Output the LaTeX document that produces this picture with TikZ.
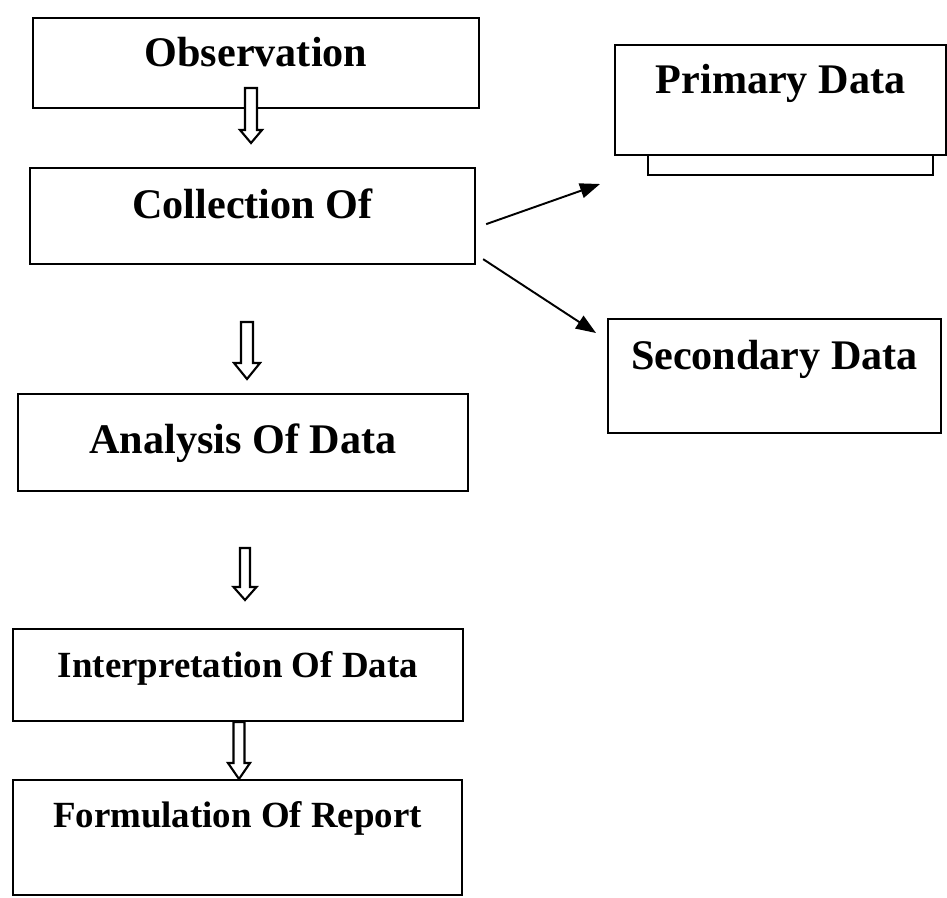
\documentclass[tikz,border=0pt]{standalone}
\usepackage{fontspec}
\setmainfont{Liberation Serif}
\usepackage{tikz}
\usetikzlibrary{calc}
\usetikzlibrary{arrows.meta}
\tikzset{box/.style={draw, rectangle, line width=1.3pt, fill=white, inner sep=0pt, anchor=north, font=\fontsize{24}{28}\selectfont\bfseries}, smallbox/.style={box, font=\fontsize{21}{25}\selectfont\bfseries}}
\tikzset{hollow/.style={draw, fill=white, line width=1.2pt, line join=miter}, link/.style={line width=1.1pt, -{Triangle[length=0.4cm, width=0.3cm]}}}

\begin{document}
\begin{tikzpicture}

	\useasboundingbox (0,0) rectangle (18.94,17.94);

	% steps on the left
	\node[box, minimum width=8.92cm, text height=0.96cm, text depth=0.84cm] (obs) at (5.12,17.60) {Observation};
	\node[box, minimum width=8.90cm, text height=1.00cm, text depth=0.92cm] (col) at (5.05,14.60) {Collection Of};
	\node[box, minimum width=9.00cm, text height=1.18cm, text depth=0.76cm] (ana) at (4.86,10.08) {Analysis Of Data};
	\node[smallbox, minimum width=9.00cm, text height=0.96cm, text depth=0.88cm] (int) at (4.76,5.38) {Interpretation Of Data};
	\node[smallbox, minimum width=8.98cm, text height=0.94cm, text depth=1.36cm] (frm) at (4.75,2.36) {Formulation Of Report};

	% kinds of data on the right (second sheet behind the primary box)
	\node[box, minimum width=5.70cm, minimum height=0.74cm] (sheet) at (15.81,15.20) {};
	\node[box, minimum width=6.62cm, text height=0.96cm, text depth=1.24cm] (pri) at (15.61,17.06) {Primary Data};
	\node[box, minimum width=6.66cm, text height=1.00cm, text depth=1.28cm] (sec) at (15.49,11.58) {Secondary Data};

	% hollow arrows between the steps
	\foreach \x/\ya/\yb/\s/\h/\l in {5.02/16.18/15.08/0.12/0.22/0.26, 4.94/11.50/10.36/0.12/0.26/0.32, 4.90/6.98/5.94/0.10/0.23/0.26, 4.78/3.50/2.36/0.11/0.22/0.32}
		\draw[hollow] (\x-\s,\ya) -- (\x+\s,\ya) -- (\x+\s,\yb+\l) -- (\x+\h,\yb+\l) -- (\x,\yb) -- (\x-\h,\yb+\l) -- (\x-\s,\yb+\l) -- cycle;

	% collection splits into two
	\coordinate (pri-in) at (12.00,14.26);
	\coordinate (sec-in) at (11.92,11.28);
	\draw[link] ($(col.east)+(0.20,-0.16)$) -- (pri-in);
	\draw[link] ($(col.east)+(0.14,-0.86)$) -- (sec-in);

\end{tikzpicture}
\end{document}
